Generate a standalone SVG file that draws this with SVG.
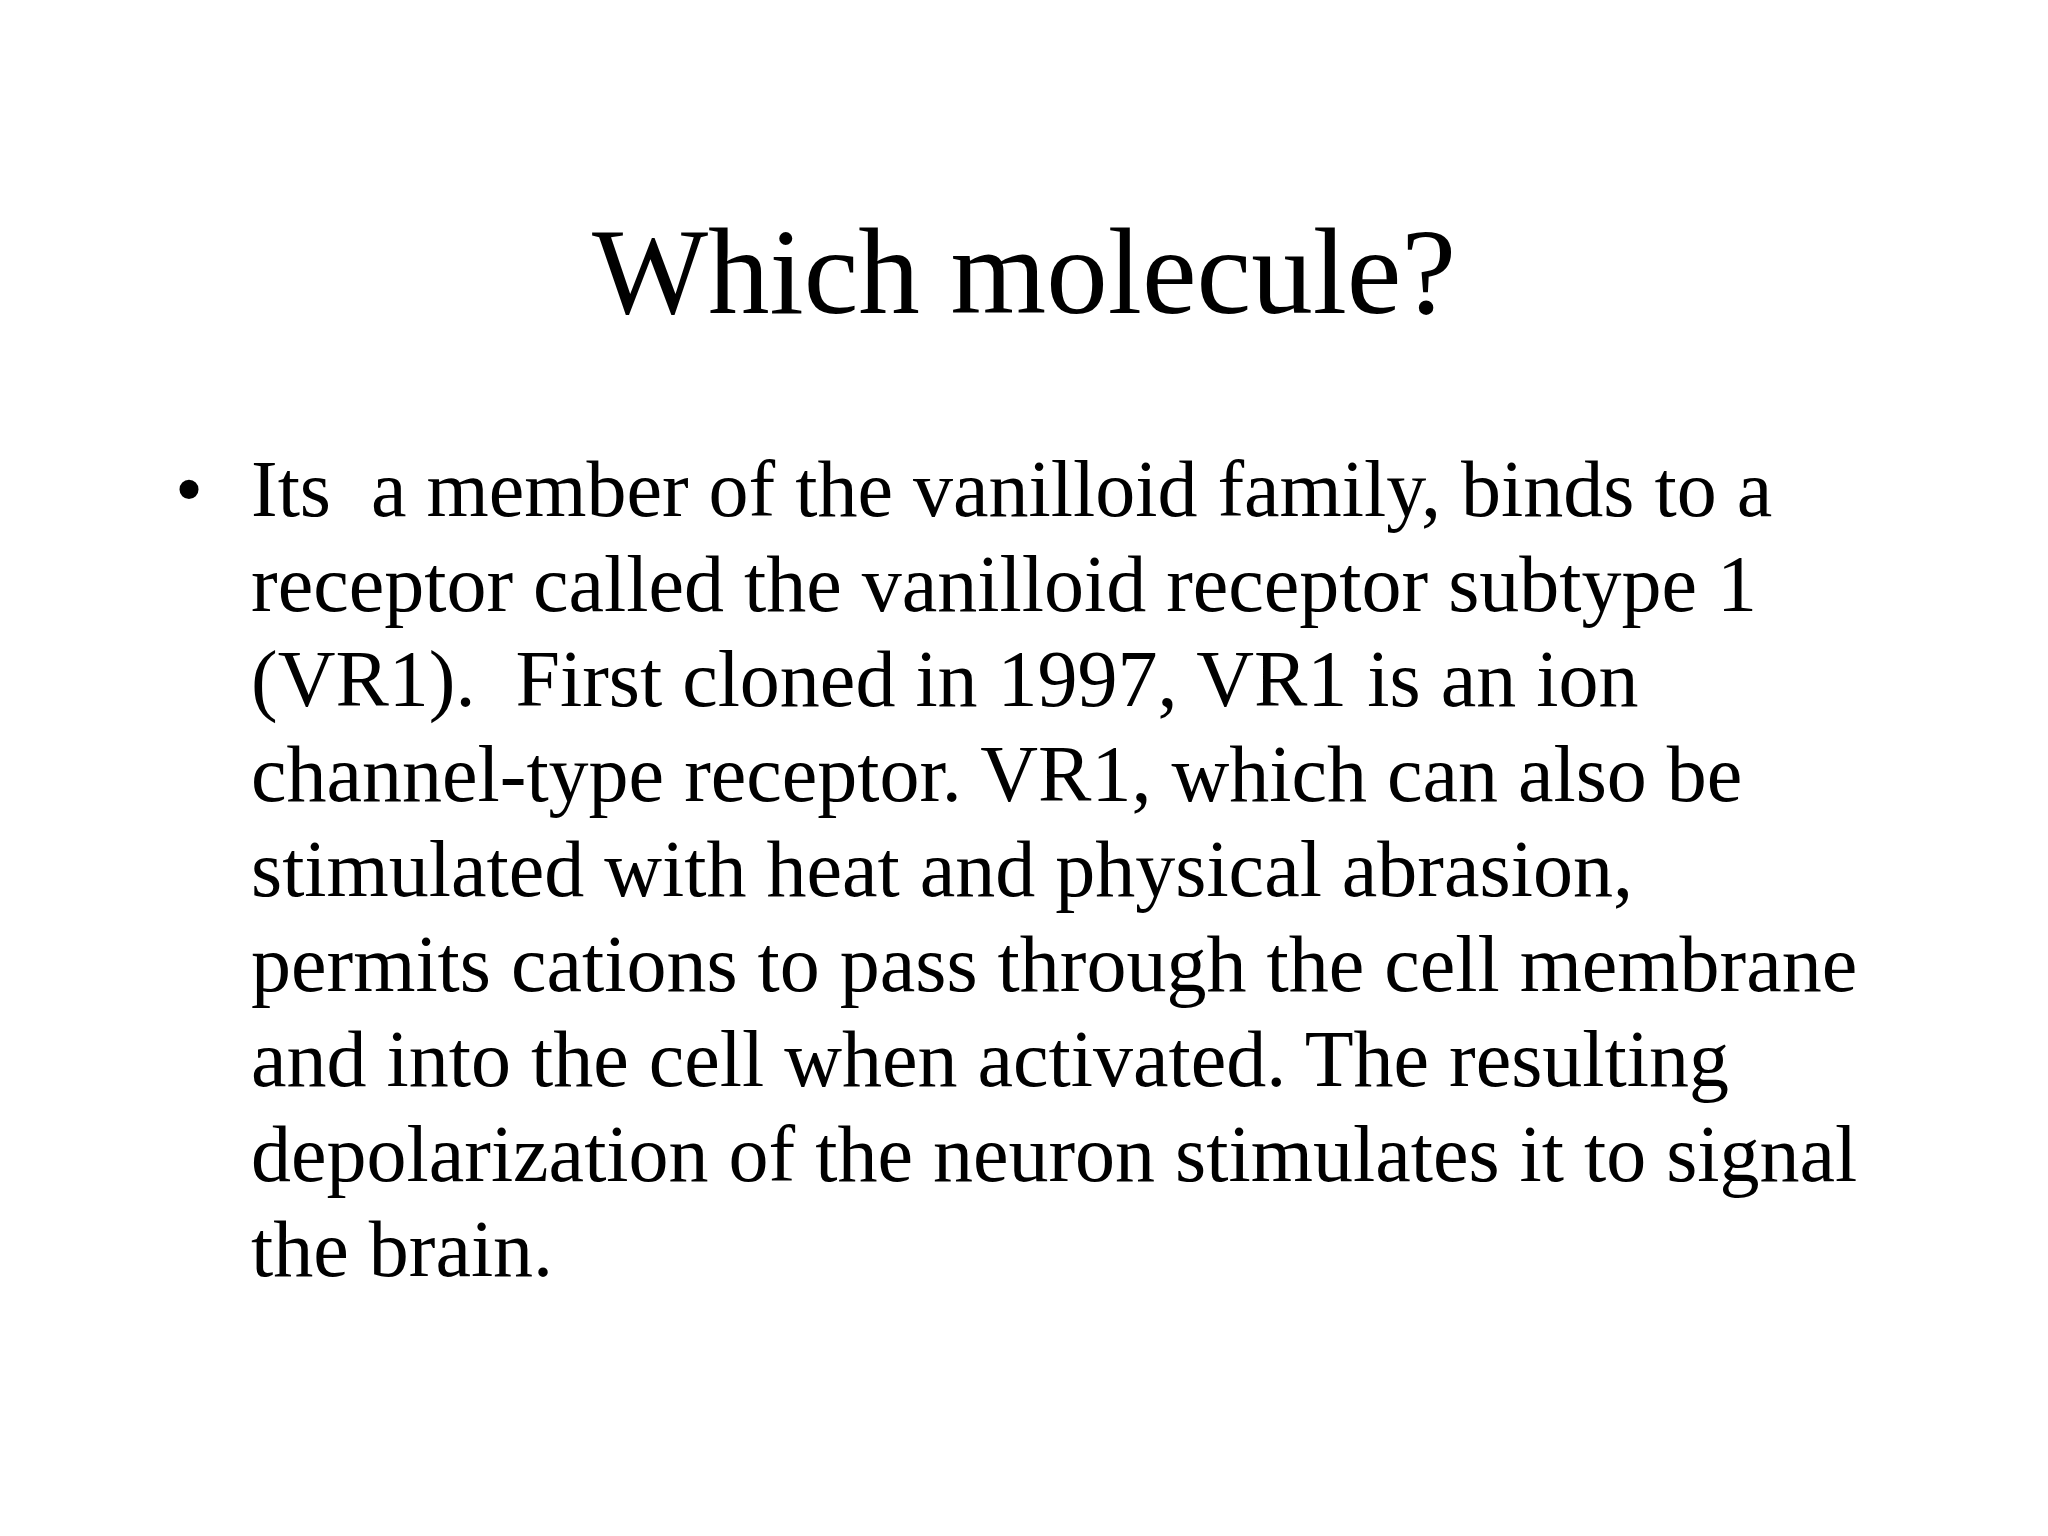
<svg xmlns="http://www.w3.org/2000/svg" width="2048" height="1536" viewBox="0 0 2048 1536">
<style>
text{font-family:"Liberation Serif","Times New Roman",serif;fill:#000}
.b{font-size:80px}
</style>
<rect width="2048" height="1536" fill="#fff"/>
<g id="title"><text x="1024" y="313" font-size="123" text-anchor="middle">Which molecule?</text></g>
<g id="body" class="b">
<text x="175" y="516">•</text>
<text x="251" y="516" xml:space="preserve">Its  a member of the vanilloid family, binds to a</text>
<text x="251" y="611">receptor called the vanilloid receptor subtype 1</text>
<text x="251" y="706" xml:space="preserve">(VR1).  First cloned in 1997, VR1 is an ion</text>
<text x="251" y="801">channel-type receptor. VR1, which can also be</text>
<text x="251" y="896">stimulated with heat and physical abrasion,</text>
<text x="251" y="991">permits cations to pass through the cell membrane</text>
<text x="251" y="1086">and into the cell when activated. The resulting</text>
<text x="251" y="1181">depolarization of the neuron stimulates it to signal</text>
<text x="251" y="1276">the brain.</text>
</g>
</svg>
